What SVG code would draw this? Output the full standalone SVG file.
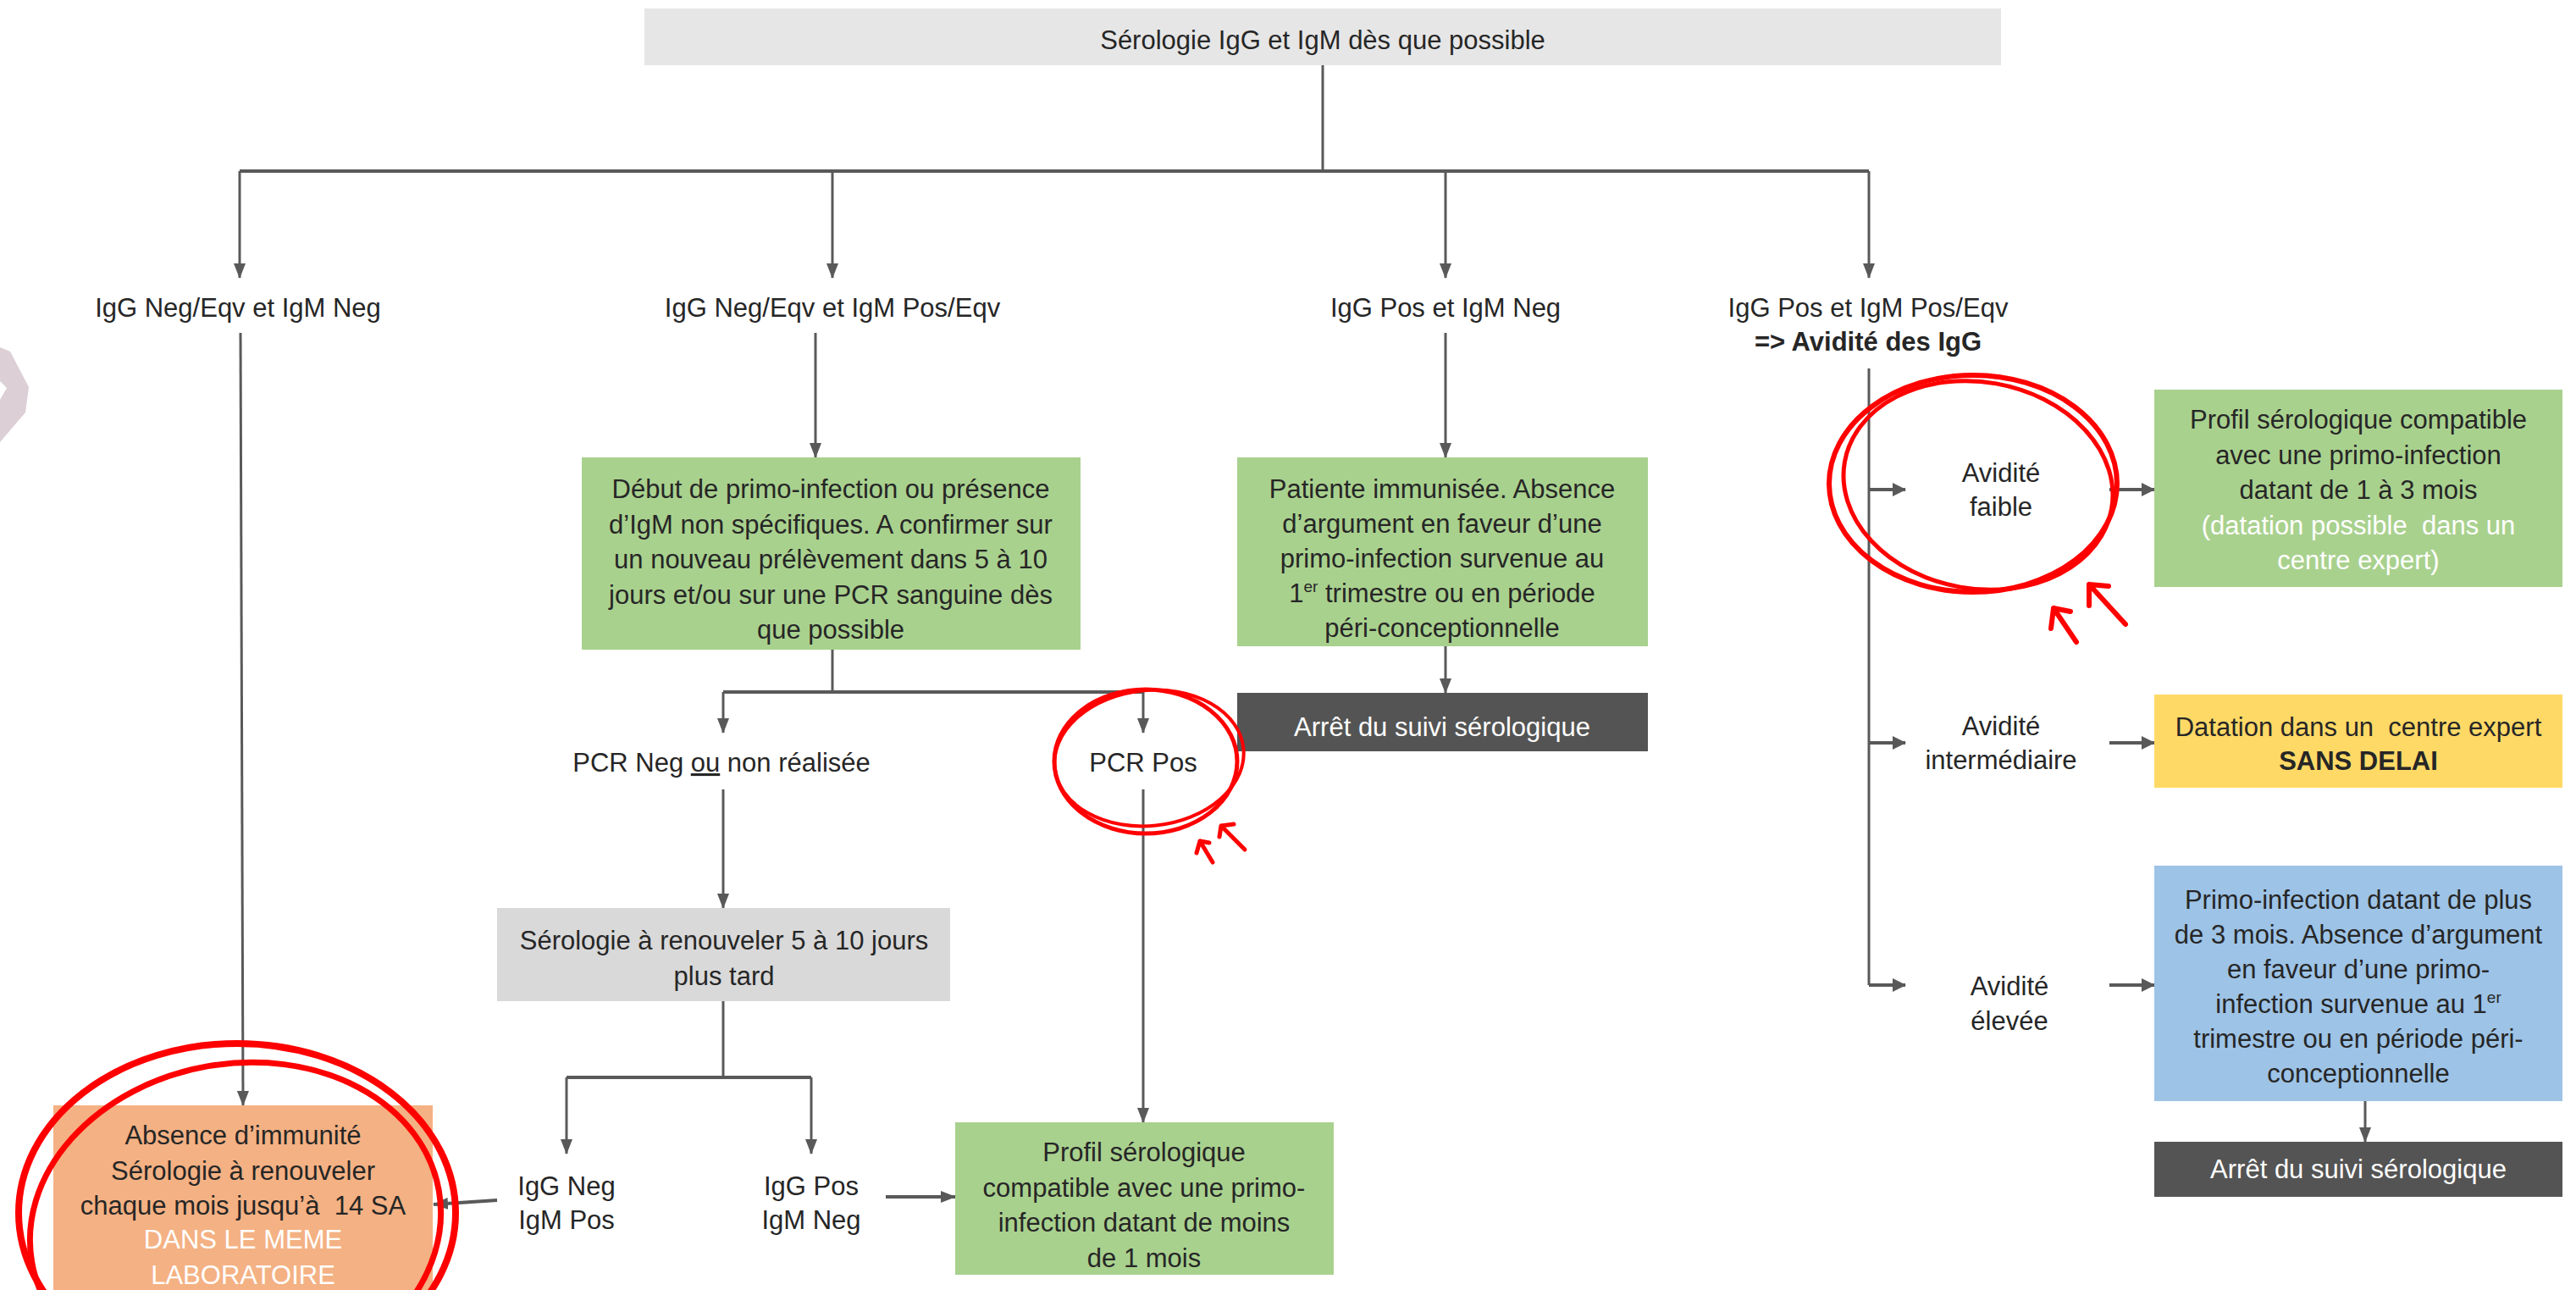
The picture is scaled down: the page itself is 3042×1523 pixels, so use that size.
<svg xmlns="http://www.w3.org/2000/svg" width="3042" height="1523" viewBox="0 0 3042 1523">
<style>
text{font-family:"Liberation Sans",Arial,sans-serif;font-size:31px;fill:#262626;text-anchor:middle}
.w{fill:#ffffff}
.b{font-weight:bold}
.c{stroke:#595959;stroke-width:3;fill:none}
.ct{stroke:#595959;stroke-width:4;fill:none}
.red{stroke:#ff0000;fill:none;stroke-linecap:round;stroke-linejoin:round}
.sup{font-size:19px}
</style>
<defs>
<marker id="arr" viewBox="0 0 18 14" refX="17" refY="7" markerWidth="18" markerHeight="14" markerUnits="userSpaceOnUse" orient="auto">
<path d="M0,0 L18,7 L0,14 z" fill="#595959"/>
</marker>
<marker id="arrs" viewBox="0 0 16 16" refX="15" refY="8" markerWidth="16" markerHeight="16" markerUnits="userSpaceOnUse" orient="auto">
<path d="M0,0 L16,8 L0,16 z" fill="#595959"/>
</marker>
</defs>
<rect width="3042" height="1523" fill="#ffffff"/>
<polygon points="0,410 12,415 34,457 30,487 0,522" fill="#dccfd6"/>
<polygon points="0,450 8,458 0,472" fill="#ffffff"/>

<g id="connectors">
<path class="c" d="M1562,77 V202"/>
<path class="ct" d="M283,202 H2207"/>
<path class="c" d="M283,202 V328" marker-end="url(#arr)"/>
<path class="c" d="M983,202 V328" marker-end="url(#arr)"/>
<path class="c" d="M1707,202 V328" marker-end="url(#arr)"/>
<path class="c" d="M2207,202 V328" marker-end="url(#arr)"/>
<path class="c" d="M284,393 L287,1305" marker-end="url(#arr)"/>
<path class="c" d="M963,393 V540" marker-end="url(#arr)"/>
<path class="c" d="M983,767 V817"/>
<path class="ct" d="M854,817 H1350"/>
<path class="c" d="M854,817 V865" marker-end="url(#arr)"/>
<path class="c" d="M1350,817 V865" marker-end="url(#arr)"/>
<path class="c" d="M854,932 V1072" marker-end="url(#arr)"/>
<path class="c" d="M854,1182 V1272"/>
<path class="ct" d="M669,1272 H958"/>
<path class="c" d="M669,1272 V1362" marker-end="url(#arr)"/>
<path class="c" d="M958,1272 V1362" marker-end="url(#arr)"/>
<path class="ct" d="M587,1417 L512,1422" marker-end="url(#arr)"/>
<path class="ct" d="M1046,1413 H1128" marker-end="url(#arr)"/>
<path class="c" d="M1350,932 V1325" marker-end="url(#arr)"/>
<path class="c" d="M1707,393 V540" marker-end="url(#arr)"/>
<path class="c" d="M1707,763 V818" marker-end="url(#arr)"/>
<path class="c" d="M2207,435 V1163"/>
<path class="ct" d="M2207,578 H2250" marker-end="url(#arrs)"/>
<path class="ct" d="M2207,877 H2250" marker-end="url(#arrs)"/>
<path class="ct" d="M2207,1163 H2250" marker-end="url(#arrs)"/>
<path class="ct" d="M2491,578 H2544" marker-end="url(#arrs)"/>
<path class="ct" d="M2491,877 H2544" marker-end="url(#arrs)"/>
<path class="ct" d="M2491,1163 H2544" marker-end="url(#arrs)"/>
<path class="c" d="M2793,1300 V1348" marker-end="url(#arr)"/>
</g>

<g id="n-top">
<rect x="761" y="10" width="1602" height="67" fill="#e6e6e6"/>
<text x="1562" y="58">Sérologie IgG et IgM dès que possible</text>
</g>

<g id="n-l1a"><text x="281" y="374">IgG Neg/Eqv et IgM Neg</text></g>
<g id="n-l1b"><text x="983" y="374">IgG Neg/Eqv et IgM Pos/Eqv</text></g>
<g id="n-l1c"><text x="1707" y="374">IgG Pos et IgM Neg</text></g>
<g id="n-l1d"><text x="2206" y="374">IgG Pos et IgM Pos/Eqv</text><text class="b" x="2206" y="414">=&gt; Avidité des IgG</text></g>

<g id="n-debut">
<rect x="687" y="540" width="589" height="227" fill="#a9d18e"/>
<text x="981" y="588">Début de primo-infection ou présence</text>
<text x="981" y="629.5">d’IgM non spécifiques. A confirmer sur</text>
<text x="981" y="671">un nouveau prélèvement dans 5 à 10</text>
<text x="981" y="712.5">jours et/ou sur une PCR sanguine dès</text>
<text x="981" y="754">que possible</text>
</g>

<g id="n-pcrneg"><text x="852" y="911">PCR Neg <tspan text-decoration="underline">ou</tspan> non réalisée</text></g>
<g id="n-pcrpos"><text x="1350" y="911">PCR Pos</text></g>

<g id="n-renouv">
<rect x="587" y="1072" width="535" height="110" fill="#d9d9d9"/>
<text x="855" y="1121">Sérologie à renouveler 5 à 10 jours</text>
<text x="855" y="1163">plus tard</text>
</g>

<g id="n-negpos"><text x="669" y="1411">IgG Neg</text><text x="669" y="1451">IgM Pos</text></g>
<g id="n-posneg"><text x="958" y="1411">IgG Pos</text><text x="958" y="1451">IgM Neg</text></g>

<g id="n-profil1">
<rect x="1128" y="1325" width="447" height="180" fill="#a9d18e"/>
<text x="1351" y="1371">Profil sérologique</text>
<text x="1351" y="1412.5">compatible avec une primo-</text>
<text x="1351" y="1454">infection datant de moins</text>
<text x="1351" y="1495.5">de 1 mois</text>
</g>

<g id="n-absence">
<rect x="63" y="1305" width="448" height="218" fill="#f4b183"/>
<text x="287" y="1351">Absence d’immunité</text>
<text x="287" y="1393">Sérologie à renouveler</text>
<text x="287" y="1434">chaque mois jusqu’à&#160; 14 SA</text>
<text class="w" x="287" y="1474">DANS LE MEME</text>
<text class="w" x="287" y="1516">LABORATOIRE</text>
</g>

<g id="n-immunisee">
<rect x="1461" y="540" width="485" height="223" fill="#a9d18e"/>
<text x="1703" y="588">Patiente immunisée. Absence</text>
<text x="1703" y="629">d’argument en faveur d’une</text>
<text x="1703" y="670">primo-infection survenue au</text>
<text x="1703" y="711">1<tspan class="sup" dy="-12">er</tspan><tspan dy="12"> trimestre ou en période</tspan></text>
<text x="1703" y="752">péri-conceptionnelle</text>
</g>

<g id="n-arret1">
<rect x="1461" y="818" width="485" height="69" fill="#545454"/>
<text class="w" x="1703" y="869">Arrêt du suivi sérologique</text>
</g>

<g id="n-avf"><text x="2363" y="569">Avidité</text><text x="2363" y="609">faible</text></g>
<g id="n-avi"><text x="2363" y="868">Avidité</text><text x="2363" y="908">intermédiaire</text></g>
<g id="n-ave"><text x="2373" y="1175">Avidité</text><text x="2373" y="1216">élevée</text></g>

<g id="n-profil2">
<rect x="2544" y="460" width="482" height="233" fill="#a9d18e"/>
<text x="2785" y="506">Profil sérologique compatible</text>
<text x="2785" y="547.5">avec une primo-infection</text>
<text x="2785" y="589">datant de 1 à 3 mois</text>
<text class="w" x="2785" y="630.5">(datation possible&#160; dans un</text>
<text class="w" x="2785" y="672">centre expert)</text>
</g>

<g id="n-datation">
<rect x="2544" y="820" width="482" height="110" fill="#ffd966"/>
<text x="2785" y="869">Datation dans un&#160; centre expert</text>
<text class="b" x="2785" y="909">SANS DELAI</text>
</g>

<g id="n-plus3">
<rect x="2544" y="1022" width="482" height="278" fill="#9dc3e6"/>
<text x="2785" y="1073">Primo-infection datant de plus</text>
<text x="2785" y="1114">de 3 mois. Absence d’argument</text>
<text x="2785" y="1155">en faveur d’une primo-</text>
<text x="2785" y="1196">infection survenue au 1<tspan class="sup" dy="-12">er</tspan></text>
<text x="2785" y="1237">trimestre ou en période péri-</text>
<text x="2785" y="1278">conceptionnelle</text>
</g>

<g id="n-arret2">
<rect x="2544" y="1348" width="482" height="65" fill="#545454"/>
<text class="w" x="2785" y="1391">Arrêt du suivi sérologique</text>
</g>

<g id="annotations">
<ellipse class="red" cx="1353" cy="899" rx="108" ry="85" stroke-width="5"/>
<ellipse class="red" cx="1357" cy="895" rx="112" ry="80" transform="rotate(-6 1357 895)" stroke-width="4"/>
<path class="red" stroke-width="5" d="M1432,1018 L1417,993 M1413,1007 L1417,993 L1428,995"/>
<path class="red" stroke-width="5" d="M1470,1003 L1442,975 M1440,988 L1442,975 L1457,973"/>
<ellipse class="red" cx="2330" cy="571" rx="170" ry="128" stroke-width="6"/>
<ellipse class="red" cx="2336" cy="573" rx="160" ry="122" transform="rotate(10 2336 573)" stroke-width="5"/>
<path class="red" stroke-width="6" d="M2452,758 L2425,718 M2422,742 L2425,718 L2445,722"/>
<path class="red" stroke-width="6" d="M2510,737 L2467,690 M2467,715 L2467,690 L2490,692"/>
<ellipse class="red" cx="280" cy="1432" rx="258" ry="200" stroke-width="8"/>
<ellipse class="red" cx="278" cy="1448" rx="244" ry="192" transform="rotate(-10 278 1448)" stroke-width="7"/>
</g>
</svg>
